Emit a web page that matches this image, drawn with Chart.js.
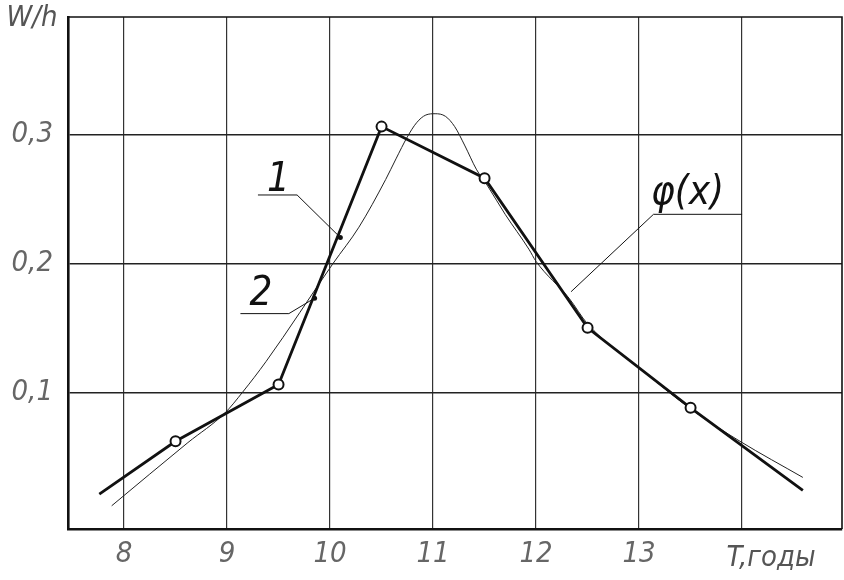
<!DOCTYPE html>
<html>
<head>
<meta charset="utf-8">
<script src="https://cdn.jsdelivr.net/npm/chart.js@4"></script>
<style>
  body { margin: 0; background: #fff; }
</style>
</head>
<body>
<canvas id="c" width="844" height="580"></canvas>
<script>
// curve 1 (thick polyline, markers on the half years)
const lineX = [7.76, 8.5, 9.5, 10.5, 11.5, 12.5, 13.5, 14.59];
const lineY = [0.021, 0.062, 0.106, 0.306, 0.266, 0.150, 0.088, 0.024];

// phi(x) (thin smooth curve)
const phiX = [7.88, 8.62, 8.98, 9.15, 9.38, 10.03, 10.28, 10.54, 10.64, 10.75, 10.84, 10.93, 11.02, 11.12, 11.21, 11.31, 11.42, 11.53, 11.70, 11.93, 12.0, 12.32, 12.5, 13.0, 13.52, 13.98, 14.59];
const phiY = [0.012, 0.061, 0.084, 0.100, 0.124, 0.200, 0.228, 0.265, 0.281, 0.298, 0.309, 0.315, 0.316, 0.314, 0.306, 0.291, 0.273, 0.260, 0.238, 0.211, 0.2015, 0.173, 0.153, 0.119, 0.086, 0.062, 0.034];

const xTicks = [8, 9, 10, 11, 12, 13, 14];
const yTicks = [0.1, 0.2, 0.3];
const yLabels = ['0,1', '0,2', '0,3'];

const font = "'Liberation Sans Narrow', 'DejaVu Sans Condensed', sans-serif";

const toPts = (xs, ys) => xs.map((v, i) => ({ x: v, y: ys[i] }));

// leader lines with labels, in data units
const leaders = [
  { text: '1', at: [9.5, 0.264], path: [[9.3, 0.253], [9.68, 0.253], [10.1, 0.22]], dot: true },
  { text: '2', at: [9.33, 0.176], path: [[9.13, 0.161], [9.6, 0.161], [9.85, 0.173]], dot: true },
  { text: 'φ(x)', at: [13.47, 0.254], path: [[14.0, 0.238], [13.14, 0.238], [12.34, 0.178]], dot: false }
];

const extras = {
  id: 'extras',
  afterDatasetsDraw(chart) {
    const { ctx, chartArea: a, scales: { x, y } } = chart;
    ctx.save();
    ctx.strokeStyle = '#111';
    ctx.lineWidth = 1.6;
    ctx.beginPath();
    ctx.moveTo(a.left, a.top);
    ctx.lineTo(a.right, a.top);
    ctx.lineTo(a.right, a.bottom);
    ctx.stroke();

    leaders.forEach(l => {
      ctx.lineWidth = 1;
      ctx.strokeStyle = '#111';
      ctx.beginPath();
      l.path.forEach((p, i) => {
        const px = x.getPixelForValue(p[0]), py = y.getPixelForValue(p[1]);
        if (i) ctx.lineTo(px, py); else ctx.moveTo(px, py);
      });
      ctx.stroke();
      if (l.dot) {
        const p = l.path[l.path.length - 1];
        ctx.fillStyle = '#111';
        ctx.beginPath();
        ctx.arc(x.getPixelForValue(p[0]), y.getPixelForValue(p[1]), 2.5, 0, Math.PI * 2);
        ctx.fill();
      }
      ctx.fillStyle = '#111';
      ctx.font = 'italic 40px ' + font;
      ctx.textAlign = 'center';
      ctx.textBaseline = 'middle';
      ctx.fillText(l.text, x.getPixelForValue(l.at[0]), y.getPixelForValue(l.at[1]));
    });

    ctx.fillStyle = '#555';
    ctx.font = 'italic 29px ' + font;
    ctx.textAlign = 'center';
    ctx.textBaseline = 'middle';
    ctx.fillText('W/h', 32, 18);
    ctx.fillText('T,годы', 771, 558);
    ctx.restore();
  }
};

new Chart(document.getElementById('c'), {
  type: 'scatter',
  data: {
    datasets: [
      {
        label: 'phi',
        data: toPts(phiX, phiY),
        showLine: true,
        borderColor: '#222',
        borderWidth: 1,
        pointRadius: 0,
        cubicInterpolationMode: 'monotone',
        order: 2
      },
      {
        label: '1',
        data: toPts(lineX, lineY),
        showLine: true,
        borderColor: '#111',
        borderWidth: 2.8,
        tension: 0,
        pointRadius: ctx => (ctx.dataIndex === 0 || ctx.dataIndex === lineX.length - 1) ? 0 : 5,
        pointBackgroundColor: '#fff',
        pointBorderColor: '#111',
        pointBorderWidth: 2,
        order: 1
      }
    ]
  },
  options: {
    responsive: false,
    animation: false,
    layout: { padding: { top: 17, right: 2 } },
    plugins: { legend: { display: false }, tooltip: { enabled: false } },
    scales: {
      x: {
        type: 'linear',
        min: 7.456,
        max: 14.97,
        afterBuildTicks: s => { s.ticks = xTicks.map(v => ({ value: v })); },
        afterFit: s => { s.height = 51; s.paddingLeft = 0; s.paddingRight = 0; },
        grid: { color: '#333', lineWidth: 1.2, drawTicks: false },
        border: { color: '#111', width: 2.6 },
        ticks: {
          padding: 8,
          color: '#666',
          font: { family: font, size: 29, style: 'italic' },
          callback: v => (v === 14 ? '' : String(v))
        }
      },
      y: {
        type: 'linear',
        min: -0.006,
        max: 0.391,
        afterBuildTicks: s => { s.ticks = yTicks.map(v => ({ value: v })); },
        afterFit: s => { s.width = 68; s.paddingTop = 0; s.paddingBottom = 0; },
        grid: { color: '#222', lineWidth: 1.4, drawTicks: false },
        border: { color: '#111', width: 2.6 },
        ticks: {
          padding: 15,
          color: '#666',
          font: { family: font, size: 29, style: 'italic' },
          callback: v => yLabels[yTicks.indexOf(v)] || ''
        }
      }
    }
  },
  plugins: [extras]
});
</script>
</body>
</html>
